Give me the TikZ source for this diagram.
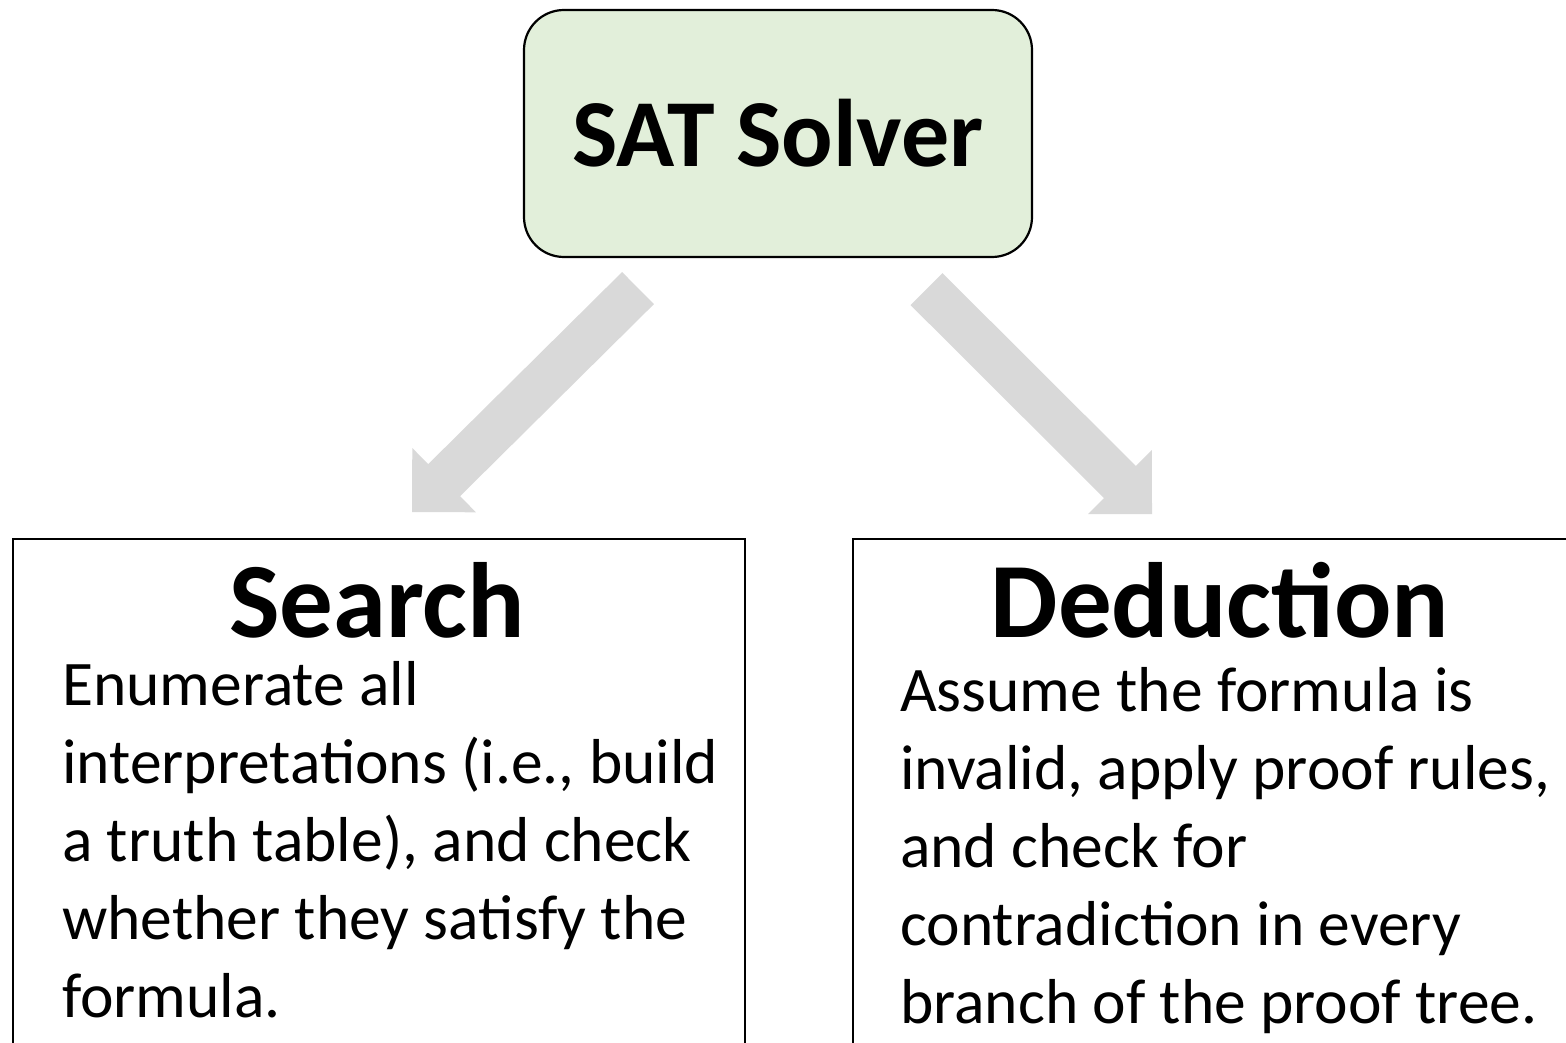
\documentclass[tikz,border=0pt]{standalone}
\usepackage{fontspec}
\setmainfont{Carlito}
\usetikzlibrary{calc}
\definecolor{satfill}{HTML}{E2EFDA}
\definecolor{arrowgray}{HTML}{D9D9D9}
% block arrow along the axis from tail #1 to apex #2
\newcommand{\blockarrow}[2]{%
  \coordinate (bahead) at ($(#2)!45.25pt!(#1)$);
  \fill[arrowgray]
    ($(#1)!22.6pt!90:(#2)$)
    -- ($(bahead)!22.6pt!90:(#2)$)
    -- ($(bahead)!45.25pt!90:(#2)$)
    -- (#2)
    -- ($(bahead)!45.25pt!-90:(#2)$)
    -- ($(bahead)!22.6pt!-90:(#2)$)
    -- ($(#1)!22.6pt!-90:(#2)$) -- cycle;}
\begin{document}
\begin{tikzpicture}[x=1pt,y=-1pt,
  satbox/.style={draw=black, line width=2.2pt, fill=satfill, rounded corners=40pt,
    minimum width=508pt, minimum height=247pt, inner sep=0pt,
    font=\fontsize{96}{100}\selectfont\bfseries},
  panel/.style={draw=black, line width=2pt, anchor=north west, inner sep=0pt},
  paneltitle/.style={anchor=base, inner sep=0pt, font=\fontsize{107}{110}\selectfont\bfseries},
  paneltext/.style={anchor=base west, inner sep=0pt, align=left,
    font=\fontsize{63.5}{78}\selectfont}]
\useasboundingbox (0,0) rectangle (1566,1043);

% top node
\node[satbox] (sat) at (778,133.5) {SAT Solver};

% the two lower panels (they run past the lower edge)
\node[panel, minimum width=732pt, minimum height=600pt] (search) at (12,538) {};
\node[panel, minimum width=800pt, minimum height=600pt] (deduction) at (852,538) {};

\node[paneltitle] (searchtitle) at (377,637) {Search};
% the base anchor of a multi-line node sits on its last line
\node[paneltext] (searchtext) at (62,1017) {Enumerate all\\
  interpretations (i.e., build\\
  a truth table), and check\\
  whether they satisfy the\\
  formula.};

\node[paneltitle] (deductiontitle) at (1220,637) {Deduction};
\node[paneltext] (deductiontext) at (900,1023) {Assume the formula is\\
  invalid, apply proof rules,\\
  and check for\\
  contradiction in every\\
  branch of the proof tree.};

% connectors
\coordinate (lefttail) at ($(sat.south)+(-140,30)$);
\coordinate (leftapex) at ($(search.north west)+(400,-26)$);
\coordinate (righttail) at ($(sat.south)+(148.5,31)$);
\coordinate (rightapex) at ($(deduction.north west)+(300,-24)$);
\blockarrow{lefttail}{leftapex}
\blockarrow{righttail}{rightapex}
\end{tikzpicture}
\end{document}
